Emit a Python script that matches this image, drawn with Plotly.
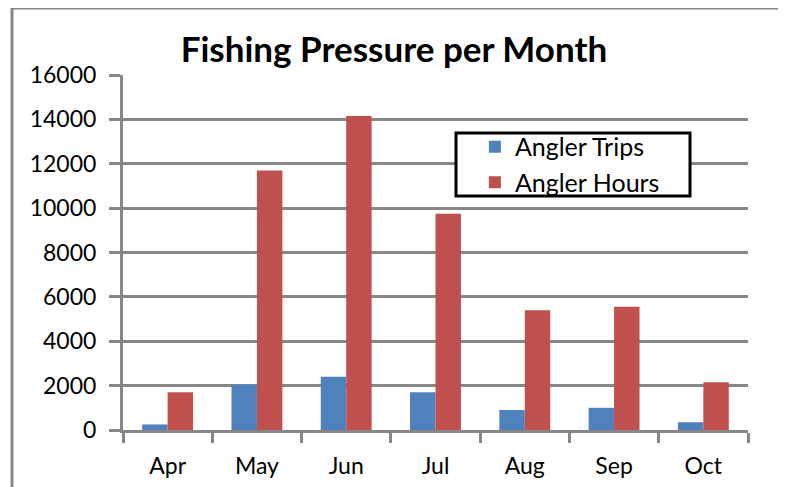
import plotly.graph_objects as go

months = ["Apr", "May", "Jun", "Jul", "Aug", "Sep", "Oct"]
angler_trips = [250, 2050, 2400, 1700, 900, 1000, 350]
angler_hours = [1700, 11700, 14150, 9750, 5400, 5550, 2150]
y_ticks = [0, 2000, 4000, 6000, 8000, 10000, 12000, 14000, 16000]
y_tick_text = [str(v) for v in y_ticks]

FONT = "Lato"
GRID = "#878787"

fig = go.Figure()
fig.add_trace(go.Bar(x=months, y=angler_trips, name="Angler Trips",
                     marker=dict(color="#4F81BD", line=dict(width=0))))
fig.add_trace(go.Bar(x=months, y=angler_hours, name="Angler Hours",
                     marker=dict(color="#C0504D", line=dict(width=0))))

fig.update_layout(
    width=786, height=487,
    margin=dict(l=115, r=46, t=67, b=65, autoexpand=False),
    paper_bgcolor="white", plot_bgcolor="white",
    barmode="group", bargap=0.43, bargroupgap=0,
    font=dict(family=FONT, color="black", size=23),
    title=dict(text="<b>Fishing Pressure per Month</b>", x=0.491, xanchor="center",
               y=0.914, yanchor="middle", xref="container",
               font=dict(family=FONT, size=35, color="black")),
    legend=dict(x=0.563, y=0.862, xanchor="left", yanchor="top",
                borderwidth=0, bgcolor="rgba(0,0,0,0)",
                font=dict(family=FONT, size=25), tracegroupgap=0),
    showlegend=True,
)
fig.update_xaxes(
    type="category", tickson="boundaries", ticks="outside", ticklen=10,
    tickwidth=3, tickcolor=GRID, showline=True, linecolor=GRID, linewidth=3,
    showgrid=False, tickfont=dict(size=23), ticklabelstandoff=13, automargin=False,
)
fig.update_yaxes(
    range=[0, 16000], tickvals=y_ticks, ticktext=y_tick_text, ticks="outside",
    ticklen=11, tickwidth=3, tickcolor=GRID, showline=True, linecolor=GRID,
    linewidth=3, showgrid=True, gridcolor=GRID, gridwidth=3, zeroline=False,
    tickfont=dict(size=23), ticklabelstandoff=8, automargin=False,
)
# outer chart frame
fig.add_shape(type="rect", xref="paper", yref="paper",
              x0=-0.1776, x1=1.0566, y0=-0.5, y1=1.1887,
              line=dict(color=GRID, width=3), fillcolor="rgba(0,0,0,0)", layer="below")
# legend box
fig.add_shape(type="rect", xref="paper", yref="paper",
              x0=0.5328, x1=0.9072, y0=0.659, y1=0.8366,
              line=dict(color="black", width=3), fillcolor="white", layer="above")
fig.write_html("out.html")
